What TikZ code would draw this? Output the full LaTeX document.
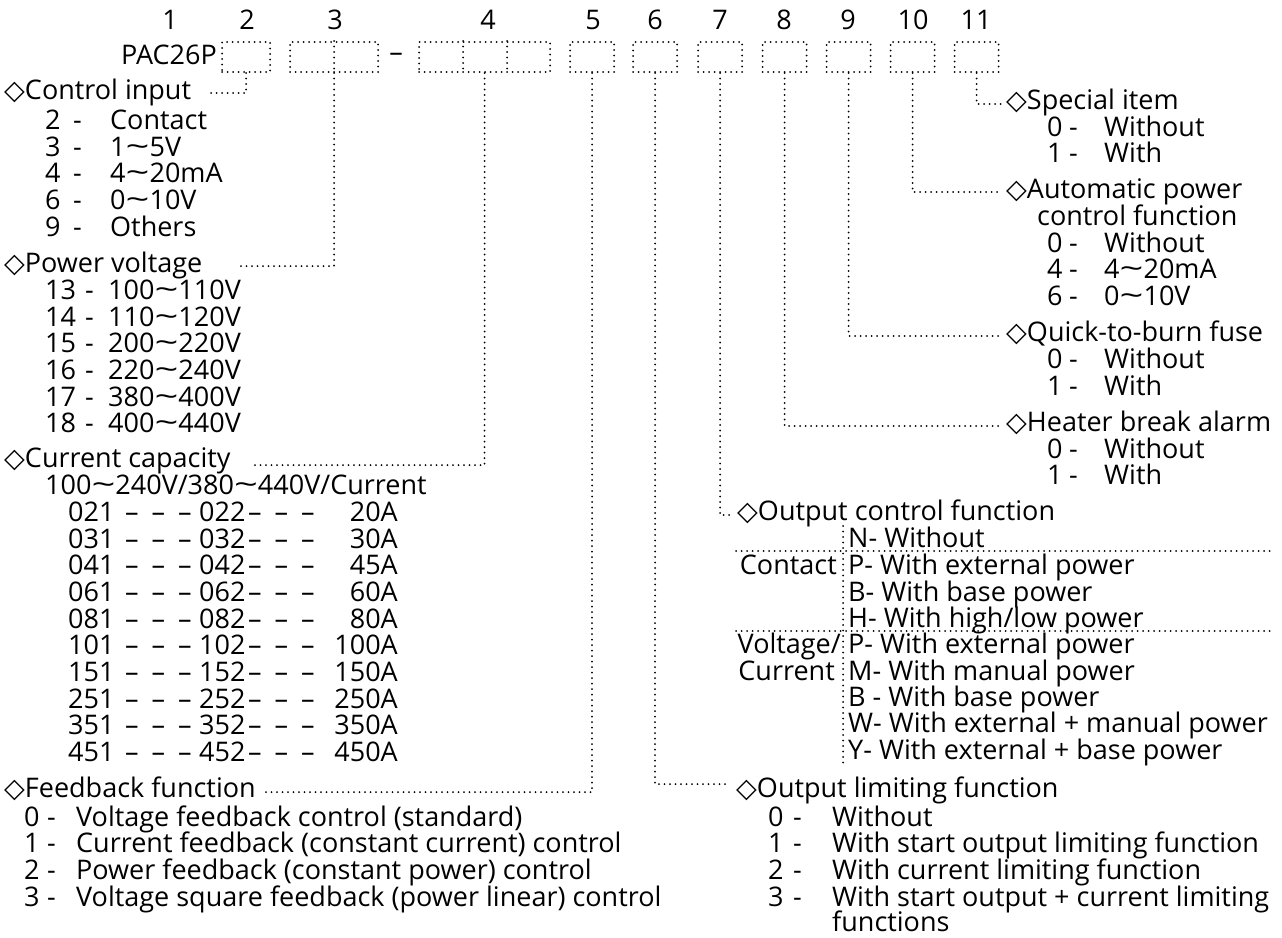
\documentclass[tikz,border=0pt]{standalone}
\usepackage{fontspec}
\setmainfont{Open Sans}
\newfontfamily\sym{DejaVu Sans}
\newcommand\tld{\scalebox{1.55}[1.05]{\textasciitilde}}
\newcommand\dia{\smash{\sym ◇}}
\newcommand\ddd{–\hspace{13pt}–\hspace{13pt}–}
\tikzset{
  txt/.style={anchor=base west, inner sep=0pt, font=\fontsize{27}{32}\selectfont},
  txtr/.style={txt, anchor=base east},
  txtc/.style={anchor=center, inner sep=0pt, font=\fontsize{27}{32}\selectfont},
  dl/.style={line width=2pt, dash pattern=on 0pt off 5.5pt, line cap=round},
  codebox/.style={dl, draw, inner sep=0pt, minimum height=30pt},
}
% #1 name, #2 baseline, #3 x number, #4 x hyphen, #5 x text, #6 number, #7 text
\newcommand\opt[7]{%
  \node[txt] (#1n) at (#3,#2) {#6};
  \node[txt] (#1h) at (#4,#2) {-};
  \node[txt] (#1t) at (#5,#2) {#7};}
% current capacity row: #1 name, #2 baseline, #3 first code, #4 second code, #5 current
\newcommand\caprow[5]{%
  \node[txt] (#1a) at (68,#2) {#3};
  \node[txt] (#1b) at (125,#2) {\ddd};
  \node[txt] (#1c) at (199,#2) {#4};
  \node[txt] (#1d) at (248,#2) {\ddd};
  \node[txtr] (#1e) at (398,#2) {#5};}
\begin{document}
\begin{tikzpicture}[x=1pt,y=-1pt]
\useasboundingbox[fill=white] (0,0) rectangle (1282,937);

% header numbers
\node[txtc] (n1) at (170,20) {1};
\node[txtc] (n2) at (247,20) {2};
\node[txtc] (n3) at (335,20) {3};
\node[txtc] (n4) at (488,20) {4};
\node[txtc] (n5) at (593,20) {5};
\node[txtc] (n6) at (655,20) {6};
\node[txtc] (n7) at (720,20) {7};
\node[txtc] (n8) at (784,20) {8};
\node[txtc] (n9) at (848,20) {9};
\node[txtc] (n10) at (913,20) {10};
\node[txtc] (n11) at (976,20) {11};

\node[txtc] (pac) at (169,55) {PAC26P};

% code boxes
\node[codebox, minimum width=48pt] (b2) at (246,57) {};
\node[codebox, minimum width=88pt] (b3) at (334,57) {};
\draw[dl] (b3.north) -- (b3.south);
\node[txtc] (dash) at (396,57) {–};
\node[codebox, minimum width=131pt] (b4) at (484.5,57) {};
\draw[dl] ([xshift=-21.5pt]b4.north) -- ([xshift=-21.5pt]b4.south);
\draw[dl] ([xshift=22.5pt]b4.north) -- ([xshift=22.5pt]b4.south);
\node[codebox, minimum width=44pt] (b5) at (592,57) {};
\node[codebox, minimum width=44pt] (b6) at (655,57) {};
\node[codebox, minimum width=44pt] (b7) at (720,57) {};
\node[codebox, minimum width=44pt] (b8) at (784.5,57) {};
\node[codebox, minimum width=44pt] (b9) at (848.5,57) {};
\node[codebox, minimum width=44pt] (b10) at (912.5,57) {};
\node[codebox, minimum width=44pt] (b11) at (976.5,57) {};

% ---------------- left column ----------------
\node[txt] (hci) at (4,99) {\dia Control input};
\opt{ci1}{129}{45}{73}{110}{2}{Contact}
\opt{ci2}{156}{45}{73}{110}{3}{1\tld 5V}
\opt{ci3}{182}{45}{73}{110}{4}{4\tld 20mA}
\opt{ci4}{209}{45}{73}{110}{6}{0\tld 10V}
\opt{ci5}{236}{45}{73}{110}{9}{Others}

\node[txt] (hpv) at (4,272) {\dia Power voltage};
\opt{pv1}{299}{45}{85}{108}{13}{100\tld 110V}
\opt{pv2}{326}{45}{85}{108}{14}{110\tld 120V}
\opt{pv3}{352}{45}{85}{108}{15}{200\tld 220V}
\opt{pv4}{379}{45}{85}{108}{16}{220\tld 240V}
\opt{pv5}{406}{45}{85}{108}{17}{380\tld 400V}
\opt{pv6}{432}{45}{85}{108}{18}{400\tld 440V}

\node[txt] (hcc) at (4,467) {\dia Current capacity};
\node[txt] (ccs) at (45,494) {100\tld 240V/380\tld 440V/Current};
\caprow{c1}{521}{021}{022}{20A}
\caprow{c2}{548}{031}{032}{30A}
\caprow{c3}{574}{041}{042}{45A}
\caprow{c4}{601}{061}{062}{60A}
\caprow{c5}{628}{081}{082}{80A}
\caprow{c6}{654}{101}{102}{100A}
\caprow{c7}{681}{151}{152}{150A}
\caprow{c8}{708}{251}{252}{250A}
\caprow{c9}{734}{351}{352}{350A}
\caprow{c10}{761}{451}{452}{450A}

\node[txt] (hfb) at (4,797) {\dia Feedback function};
\opt{fb1}{826}{24}{47}{76}{0}{Voltage feedback control (standard)}
\opt{fb2}{852}{24}{47}{76}{1}{Current feedback (constant current) control}
\opt{fb3}{879}{24}{47}{76}{2}{Power feedback (constant power) control}
\opt{fb4}{906}{24}{47}{76}{3}{Voltage square feedback (power linear) control}

% ---------------- right column ----------------
\node[txt] (hsp) at (1006,109) {\dia Special item};
\opt{sp1}{136}{1047}{1069}{1104}{0}{Without}
\opt{sp2}{162}{1047}{1069}{1104}{1}{With}

\node[txt] (hap) at (1006,198) {\dia Automatic power};
\node[txt] (hap2) at (1037,225) {control function};
\opt{ap1}{252}{1047}{1069}{1104}{0}{Without}
\opt{ap2}{278}{1047}{1069}{1104}{4}{4\tld 20mA}
\opt{ap3}{305}{1047}{1069}{1104}{6}{0\tld 10V}

\node[txt] (hqf) at (1006,341) {\dia Quick-to-burn fuse};
\opt{qf1}{368}{1047}{1069}{1104}{0}{Without}
\opt{qf2}{395}{1047}{1069}{1104}{1}{With}

\node[txt] (hhb) at (1006,431) {\dia Heater break alarm};
\opt{hb1}{458}{1047}{1069}{1104}{0}{Without}
\opt{hb2}{484}{1047}{1069}{1104}{1}{With}

\node[txt] (hoc) at (737,520) {\dia Output control function};
\node[txt] (oc1) at (848,547) {N- Without};
\node[txt] (oc2) at (848,574) {P- With external power};
\node[txt] (oc3) at (848,601) {B- With base power};
\node[txt] (oc4) at (848,627) {H- With high/low power};
\node[txt] (oc5) at (848,653) {P- With external power};
\node[txt] (oc6) at (848,680) {M- With manual power};
\node[txt] (oc7) at (848,706) {B - With base power};
\node[txt] (oc8) at (848,732) {W- With external + manual power};
\node[txt] (oc9) at (848,759) {Y- With external + base power};
\node[txtr] (occ) at (837,574) {Contact};
\node[txtr] (ocv) at (841,653) {Voltage/};
\node[txtr] (oci) at (835,680) {Current};
\draw[dl] (843,526) -- (843,764);
\draw[dl] (736,551) -- (1272,551);
\draw[dl] (736,631) -- (1272,631);

\node[txt] (hol) at (736,797) {\dia Output limiting function};
\opt{ol1}{826}{768}{793}{832}{0}{Without}
\opt{ol2}{852}{768}{793}{832}{1}{With start output limiting function}
\opt{ol3}{879}{768}{793}{832}{2}{With current limiting function}
\opt{ol4}{906}{768}{793}{832}{3}{With start output + current limiting}
\node[txt] (ol5) at (832,931) {functions};

% ---------------- leaders ----------------
\coordinate (e2) at (207,93);
\coordinate (e3) at (236,266);
\coordinate (e4) at (255,465);
\coordinate (e5) at (263,792);
\coordinate (e6) at (727,784);
\coordinate (e7) at (732,515);
\coordinate (e8) at (1001,426);
\coordinate (e9) at (1001,336);
\coordinate (e10) at (1001,192);
\coordinate (e11) at (1001,104);
\draw[dl] (b2.south) |- (e2);
\draw[dl] (b3.south) |- (e3);
\draw[dl] (b4.south) |- (e4);
\draw[dl] (b5.south) |- (e5);
\draw[dl] (b6.south) |- (e6);
\draw[dl] (b7.south) |- (e7);
\draw[dl] (b8.south) |- (e8);
\draw[dl] (b9.south) |- (e9);
\draw[dl] (b10.south) |- (e10);
\draw[dl] (b11.south) |- (e11);
\end{tikzpicture}
\end{document}
